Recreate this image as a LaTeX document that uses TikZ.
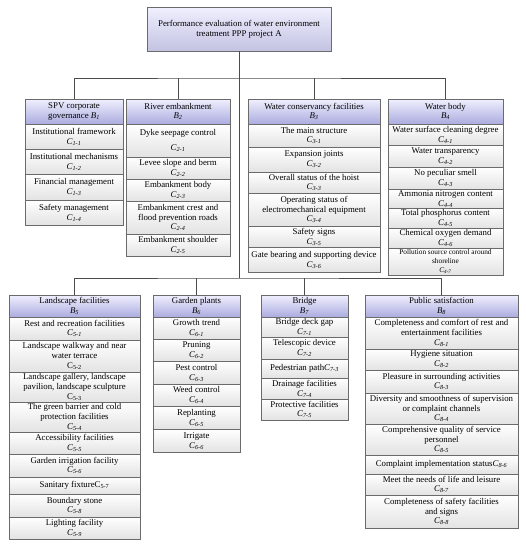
\documentclass[tikz,border=0pt]{standalone}
\usepackage{fontspec}
\setmainfont{Liberation Serif}
\newcommand\cc[1]{\textit{C}\textsubscript{\textit{#1}}}
\newcommand\cu[1]{C\textsubscript{#1}}
\newcommand\bb[1]{\textit{B}\textsubscript{\textit{#1}}}
\newcommand\mkcell[7]{%
  \pgfmathsetmacro\myCY{(#5+#6)/2}%
  \pgfmathsetmacro\myCH{#6-#5}%
  \node[#1, minimum width=#4pt, minimum height=\myCH pt] (#2) at (#3,\myCY) {#7};}
\tikzset{
  base/.style={draw=black!58, line width=0.7pt, align=center, inner sep=0pt,
    font=\fontsize{8.8}{9.8}\selectfont},
  hcell/.style={base, top color=blue!6!white, bottom color=blue!45!gray!45!white},
  tcell/.style={base, top color=blue!6!white, bottom color=blue!35!gray!35!white},
  ccell/.style={base, top color=white, bottom color=black!11},
  smallcell/.style={ccell, font=\fontsize{7.3}{8.6}\selectfont},
  link/.style={draw=black!70, line width=0.8pt}
}
\begin{document}
\begin{tikzpicture}[x=1pt,y=-1pt]
\useasboundingbox (0,0) rectangle (526,550);
% title
\mkcell{tcell}{title}{239}{184}{7}{51}{Performance evaluation of water environment\\treatment PPP project A}
% B1
\mkcell{hcell}{h1}{74}{98}{99}{124}{SPV corporate\\governance \bb{1}}
\mkcell{ccell}{c11}{74}{98}{124}{149}{Institutional framework\\\cc{1-1}}
\mkcell{ccell}{c12}{74}{98}{149}{174.5}{Institutional mechanisms\\\cc{1-2}}
\mkcell{ccell}{c13}{74}{98}{174.5}{200}{Financial management\\\cc{1-3}}
\mkcell{ccell}{c14}{74}{98}{200}{225}{Safety management\\\cc{1-4}}
% B2
\mkcell{hcell}{h2}{178}{104}{99}{124}{River embankment\\\bb{2}}
\mkcell{ccell}{c21}{178}{104}{124}{157}{Dyke seepage control\\[5pt]\cc{2-1}}
\mkcell{ccell}{c22}{178}{104}{157}{179}{Levee slope and berm\\\cc{2-2}}
\mkcell{ccell}{c23}{178}{104}{179}{201}{Embankment body\\\cc{2-3}}
\mkcell{ccell}{c24}{178}{104}{201}{234}{Embankment crest and\\flood prevention roads\\\cc{2-4}}
\mkcell{ccell}{c25}{178}{104}{234}{256}{Embankment shoulder\\\cc{2-5}}
% B3
\mkcell{hcell}{h3}{314}{132}{99}{124}{Water conservancy facilities\\\bb{3}}
\mkcell{ccell}{c31}{314}{132}{124}{147}{The main structure\\\cc{3-1}}
\mkcell{ccell}{c32}{314}{132}{147}{172}{Expansion joints\\\cc{3-2}}
\mkcell{ccell}{c33}{314}{132}{172}{193}{Overall status of the hoist\\\cc{3-3}}
\mkcell{ccell}{c34}{314}{132}{193}{226}{Operating status of\\electromechanical equipment\\\cc{3-4}}
\mkcell{ccell}{c35}{314}{132}{226}{247.5}{Safety signs\\\cc{3-5}}
\mkcell{ccell}{c36}{314}{132}{247.5}{272}{Gate bearing and supporting device\\\cc{3-6}}
% B4
\mkcell{hcell}{h4}{445.5}{115}{99}{124}{Water body\\\bb{4}}
\mkcell{ccell}{c41}{445.5}{115}{124}{145}{Water surface cleaning degree\\\cc{4-1}}
\mkcell{ccell}{c42}{445.5}{115}{145}{167}{Water transparency\\\cc{4-2}}
\mkcell{ccell}{c43}{445.5}{115}{167}{189.5}{No peculiar smell\\\cc{4-3}}
\mkcell{ccell}{c44}{445.5}{115}{189.5}{208}{Ammonia nitrogen content\\\cc{4-4}}
\mkcell{ccell}{c45}{445.5}{115}{208}{228}{Total phosphorus content\\\cc{4-5}}
\mkcell{ccell}{c46}{445.5}{115}{228}{248}{Chemical oxygen demand\\\cc{4-6}}
\mkcell{smallcell}{c47}{445.5}{115}{248}{275}{Pollution source control around\\shoreline\\\cc{4-7}}
% B5
\mkcell{hcell}{h5}{74.5}{131}{295}{317}{Landscape facilities\\\bb{5}}
\mkcell{ccell}{c51}{74.5}{131}{317}{340}{Rest and recreation facilities\\\cc{5-1}}
\mkcell{ccell}{c52}{74.5}{131}{340}{372}{Landscape walkway and near\\water terrace\\\cu{5-2}}
\mkcell{ccell}{c53}{74.5}{131}{372}{402}{Landscape gallery, landscape\\pavilion, landscape sculpture\\\cu{5-3}}
\mkcell{ccell}{c54}{74.5}{131}{402}{432}{The green barrier and cold\\protection facilities\\\cc{5-4}}
\mkcell{ccell}{c55}{74.5}{131}{432}{454}{Accessibility facilities\\\cc{5-5}}
\mkcell{ccell}{c56}{74.5}{131}{454}{477}{Garden irrigation facility\\\cc{5-6}}
\mkcell{ccell}{c57}{74.5}{131}{477}{494}{Sanitary fixture\cu{5-7}}
\mkcell{ccell}{c58}{74.5}{131}{494}{517}{Boundary stone\\\cc{5-8}}
\mkcell{ccell}{c59}{74.5}{131}{517}{539}{Lighting facility\\\cc{5-9}}
% B6
\mkcell{hcell}{h6}{196.5}{87}{295}{317}{Garden plants\\\bb{6}}
\mkcell{ccell}{c61}{196.5}{87}{317}{339}{Growth trend\\\cc{6-1}}
\mkcell{ccell}{c62}{196.5}{87}{339}{361.5}{Pruning\\\cc{6-2}}
\mkcell{ccell}{c63}{196.5}{87}{361.5}{384}{Pest control\\\cc{6-3}}
\mkcell{ccell}{c64}{196.5}{87}{384}{406.5}{Weed control\\\cc{6-4}}
\mkcell{ccell}{c65}{196.5}{87}{406.5}{429.5}{Replanting\\\cc{6-5}}
\mkcell{ccell}{c66}{196.5}{87}{429.5}{452}{Irrigate\\\cc{6-6}}
% B7
\mkcell{hcell}{h7}{304.5}{87}{295}{317}{Bridge\\\bb{7}}
\mkcell{ccell}{c71}{304.5}{87}{317}{337}{Bridge deck gap\\\cc{7-1}}
\mkcell{ccell}{c72}{304.5}{87}{337}{359}{Telescopic device\\\cc{7-2}}
\mkcell{ccell}{c73}{304.5}{87}{359}{378}{Pedestrian path\cc{7-3}}
\mkcell{ccell}{c74}{304.5}{87}{378}{399}{Drainage facilities\\\cc{7-4}}
\mkcell{ccell}{c75}{304.5}{87}{399}{420}{Protective facilities\\\cc{7-5}}
% B8
\mkcell{hcell}{h8}{441.5}{153}{295}{317}{Public satisfaction\\\bb{8}}
\mkcell{ccell}{c81}{441.5}{153}{317}{349}{Completeness and comfort of rest and\\entertainment facilities\\\cc{8-1}}
\mkcell{ccell}{c82}{441.5}{153}{349}{370}{Hygiene situation\\\cc{8-2}}
\mkcell{ccell}{c83}{441.5}{153}{370}{393}{Pleasure in surrounding activities\\\cc{8-3}}
\mkcell{ccell}{c84}{441.5}{153}{393}{424}{Diversity and smoothness of supervision\\or complaint channels\\\cc{8-4}}
\mkcell{ccell}{c85}{441.5}{153}{424}{455}{Comprehensive quality of service\\personnel\\\cc{8-5}}
\mkcell{ccell}{c86}{441.5}{153}{455}{474}{Complaint implementation status\cc{8-6}}
\mkcell{ccell}{c87}{441.5}{153}{474}{495}{Meet the needs of life and leisure\\\cc{8-7}}
\mkcell{ccell}{c88}{441.5}{153}{495}{528}{Completeness of safety facilities\\and signs\\\cc{8-8}}
% connectors
\coordinate (j1) at (239,78);
\coordinate (j2) at (239,278);
\draw[link] (title.south) -- (j2);
\draw[link] (h1.north) |- (j1) -| (h4.north);
\draw[link] (h2.north) -- (h2.north |- j1);
\draw[link] (h3.north) -- (h3.north |- j1);
\draw[link] (h5.north) |- (j2) -| (h8.north);
\draw[link] (h6.north) -- (h6.north |- j2);
\draw[link] (h7.north) -- (h7.north |- j2);
\end{tikzpicture}
\end{document}
